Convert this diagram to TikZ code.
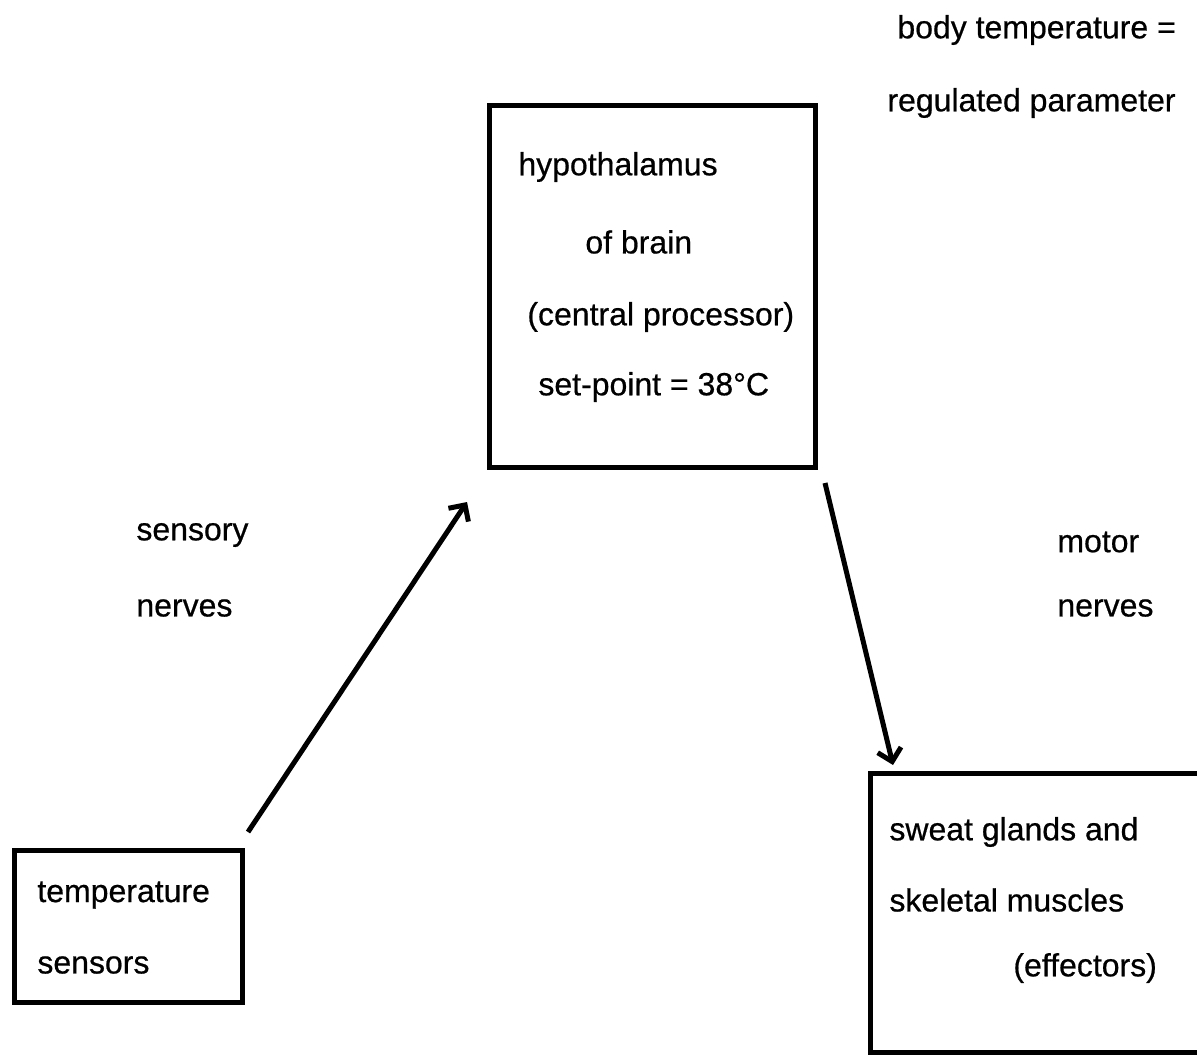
\documentclass[tikz,border=0pt]{standalone}
\usepackage{fontspec}
\setmainfont[FakeBold=0.6]{Liberation Sans}
\usetikzlibrary{arrows.meta}

\tikzset{
  box/.style={draw, line width=2.5pt, inner sep=0pt, anchor=north west},
  txt/.style={anchor=west, inner sep=0pt, font=\fontsize{16}{19}\selectfont},
  nerve/.style={line width=2.5pt, -{Straight Barb[length=6pt,width=12pt]}},
}

\begin{document}
\begin{tikzpicture}[x=0.5pt,y=-0.5pt]
\clip (0,0) rectangle (1197,1058);
% boxes
\node[box, minimum width=163pt, minimum height=181pt] (hypo) at (487,103) {};
\node[box, minimum width=114pt, minimum height=76pt] (sensors) at (12,848) {};
\node[box, minimum width=190pt, minimum height=139.5pt] (eff) at (868,771) {};
% texts
\node[txt] (bt1) at (897,30) {body temperature =};
\node[txt] (bt2) at (887,103) {regulated parameter};
\node[txt] (h1) at (518,167) {hypothalamus};
\node[txt] (h2) at (585,242) {of brain};
\node[txt] (h3) at (527,317) {(central processor)};
\node[txt] (h4) at (538,387) {set-point = 38°C};
\node[txt] (sn1) at (136,535) {sensory};
\node[txt] (sn2) at (136,608) {nerves};
\node[txt] (mn1) at (1057,542) {motor};
\node[txt] (mn2) at (1057,608) {nerves};
\node[txt] (s1) at (37,895) {temperature};
\node[txt] (s2) at (37,965) {sensors};
\node[txt] (e1) at (889,832) {sweat glands and};
\node[txt] (e2) at (889,900) {skeletal muscles};
\node[txt] (e3) at (1013,968) {(effectors)};
% arrows
\draw[nerve] ([xshift=1.5pt,yshift=8pt]sensors.north east) -- ([xshift=-10pt,yshift=-16pt]hypo.south west);
\draw[nerve] ([xshift=3.5pt,yshift=-6.5pt]hypo.south east) -- ([xshift=12.5pt,yshift=3pt]eff.north west);
\end{tikzpicture}
\end{document}
